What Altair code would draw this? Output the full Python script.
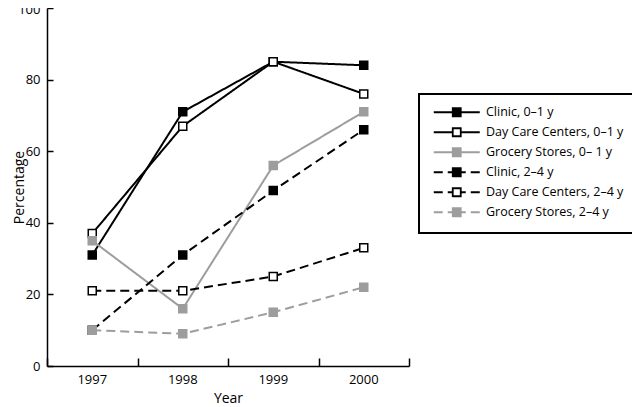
import altair as alt
import pandas as pd

years = ["1997", "1998", "1999", "2000"]
series_names = [
    "Clinic, 0–1 y",
    "Day Care Centers, 0–1 y",
    "Grocery Stores, 0– 1 y",
    "Clinic, 2–4 y",
    "Day Care Centers, 2–4 y",
    "Grocery Stores, 2–4 y",
]
clinic_01 = [31, 71, 85, 84]
daycare_01 = [37, 67, 85, 76]
grocery_01 = [35, 16, 56, 71]
clinic_24 = [10, 31, 49, 66]
daycare_24 = [21, 21, 25, 33]
grocery_24 = [10, 9, 15, 22]
all_values = [clinic_01, daycare_01, grocery_01, clinic_24, daycare_24, grocery_24]
y_ticks = [0, 20, 40, 60, 80, 100]

stroke_range = ["#000000", "#000000", "#9d9d9d", "#000000", "#000000", "#9d9d9d"]
fill_range = ["#000000", "#ffffff", "#9d9d9d", "#000000", "#ffffff", "#9d9d9d"]
dash_range = [[1, 0], [1, 0], [1, 0], [9, 5], [9, 5], [9, 5]]

rows = []
for name, vals in zip(series_names, all_values):
    for yr, v in zip(years, vals):
        rows.append({"series": name, "year": yr, "value": v})
df = pd.DataFrame(rows)

W, H = 362, 358
FONT = "Open Sans"

xscale = alt.Scale(type="band", domain=years, paddingInner=0, paddingOuter=0)
yscale = alt.Scale(domain=[0, 100], nice=False)
stroke_scale = alt.Scale(domain=series_names, range=stroke_range)
fill_scale = alt.Scale(domain=series_names, range=fill_range)
dash_scale = alt.Scale(domain=series_names, range=dash_range)

legend_path = ("M-5.75,0H-1M5.75,0H1M-1,-1H1V1H-1Z"
               "M-1.2,-1H1.2M1,-1.2V1.2M1.2,1H-1.2M-1,1.2V-1.2")

legend_kw = dict(
    title=None,
    orient="none",
    legendX=372,
    legendY=86,
    padding=12,
    rowPadding=2,
    strokeColor="black",
    symbolType=legend_path,
    symbolSize=64,
    symbolStrokeWidth=1.8,
    symbolOffset=19.5,
    labelOffset=23,
    labelFont=FONT,
    labelFontSize=12.5,
    labelColor="black",
    labelLimit=300,
)

lines = alt.Chart(df).mark_line(strokeWidth=2).encode(
    x=alt.X("year:O", scale=xscale,
            axis=alt.Axis(orient="bottom", title="Year", ticks=False, tickSize=0,
                          labelAngle=0, labelPadding=7, titlePadding=5)),
    y=alt.Y("value:Q", scale=yscale,
            axis=alt.Axis(orient="left", title="Percentage", ticks=False, tickSize=0,
                          values=y_ticks[:-1], labelPadding=7,
                          titleX=-28, titleY=179, titleAngle=270, titleBaseline="middle",
                          titleAlign="center", grid=False)),
    stroke=alt.Stroke("series:N", scale=stroke_scale, legend=alt.Legend(**legend_kw)),
    strokeDash=alt.StrokeDash("series:N", scale=dash_scale, legend=alt.Legend(**legend_kw)),
)

points = alt.Chart(df).mark_square(size=64, strokeWidth=1.5, opacity=1).encode(
    x=alt.X("year:O", scale=xscale,
            axis=alt.Axis(orient="top", offset=-H, labels=False, domain=False, ticks=True,
                          tickSize=8, tickBand="extent", title="", grid=False)),
    y=alt.Y("value:Q", scale=yscale,
            axis=alt.Axis(orient="right", offset=-W, labels=True, domain=False, ticks=True,
                          tickSize=6, values=y_ticks, title="", grid=False,
                          labelExpr="datum.value == 100 ? '100' : ''",
                          labelFlush=True, labelFlushOffset=5, labelAlign="right",
                          labelPadding=-13)),
    fill=alt.Fill("series:N", scale=fill_scale, legend=alt.Legend(**legend_kw)),
    stroke=alt.Stroke("series:N", scale=stroke_scale, legend=None),
)

chart = alt.layer(lines, points).properties(
    width=W,
    height=H,
    autosize=alt.AutoSizeParams(type="none"),
    padding={"left": 39, "top": 0, "right": 223, "bottom": 40},
).configure_view(strokeWidth=0).configure_axis(
    labelFont=FONT,
    labelFontSize=13,
    labelColor="black",
    titleFont=FONT,
    titleFontSize=14,
    titleFontWeight="normal",
    titleColor="black",
    domainColor="black",
    domainWidth=1.5,
    tickColor="black",
    tickWidth=1.5,
    grid=False,
).configure_legend(strokeWidth=2)

chart.save("out.html", embed_options={"renderer": "svg", "actions": False})
